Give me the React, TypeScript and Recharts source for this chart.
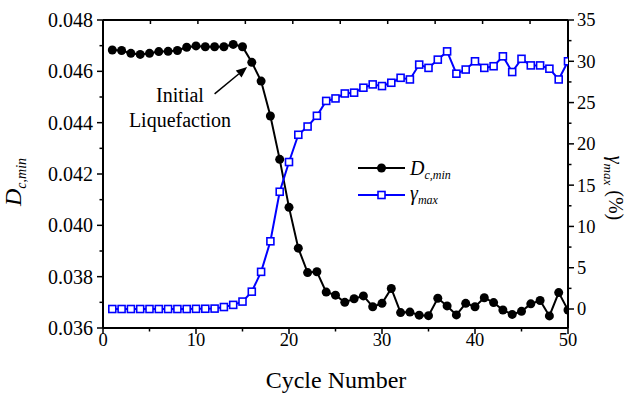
import React from 'react';
import {
  ComposedChart, Line, XAxis, YAxis, Legend, ReferenceLine, ReferenceDot, Customized,
} from 'recharts';

const cycles = [1,2,3,4,5,6,7,8,9,10,11,12,13,14,15,16,17,18,19,20,21,22,23,24,25,26,27,28,29,30,31,32,33,34,35,36,37,38,39,40,41,42,43,44,45,46,47,48,49,50];

const dcMin = [
  0.04683, 0.04681, 0.0467, 0.04666, 0.0467, 0.04677, 0.04678, 0.04681, 0.04694, 0.04699,
  0.04696, 0.04696, 0.04696, 0.04705, 0.04696, 0.04635, 0.04562, 0.04426, 0.04257, 0.0407,
  0.03911, 0.03816, 0.03819, 0.0374, 0.03728, 0.037, 0.03714, 0.03725, 0.03683, 0.03696,
  0.03754, 0.0366, 0.03662, 0.0365, 0.03648, 0.03716, 0.03686, 0.03651, 0.03696, 0.03683,
  0.03718, 0.03699, 0.0367, 0.03653, 0.03665, 0.03694, 0.03707, 0.03647, 0.03738, 0.0367,
];

const gammaMax = [
  0, 0, 0, 0, 0, 0, 0, 0, 0, 0.02,
  0.03, 0.05, 0.24, 0.5, 0.9, 2.1, 4.5, 8.2, 14.2, 17.8,
  21.1, 22.1, 23.4, 25.2, 25.5, 26.1, 26.2, 26.8, 27.2, 27.0,
  27.4, 28.0, 27.8, 29.6, 29.2, 30.2, 31.2, 28.5, 29.0, 30.0,
  29.2, 29.4, 30.6, 28.7, 30.3, 29.5, 29.5, 29.1, 27.8, 30.0,
];

const xMajorTicks = [0, 10, 20, 30, 40, 50];
const xMinorTicks = [5, 15, 25, 35, 45];
const xTopTicks = [5, 10, 15, 20, 25, 30, 35, 40, 45];
const leftMajorTicks = [0.036, 0.038, 0.04, 0.042, 0.044, 0.046, 0.048];
const leftMinorTicks = [0.037, 0.039, 0.041, 0.043, 0.045, 0.047];
const rightMajorTicks = [0, 5, 10, 15, 20, 25, 30, 35];
const rightMinorTicks = [2.5, 7.5, 12.5, 17.5, 22.5, 27.5, 32.5];

const arrowSegment = [{ x: 12.0, y: 0.04512 }, { x: 15.5, y: 0.04617 }];
const annotationPoint = { x: 8.28, y: 0.04481 };

const data = cycles.map((c, i) => ({ cycle: c, d: dcMin[i], g: gammaMax[i] }));

const FONT = '"Liberation Serif", "Times New Roman", serif';
const BLUE = '#0000ff';
const axisLineStyle = { stroke: '#000', strokeWidth: 2 };
const TICK_W = 1.5;

const isIn = (arr: number[], v: number) => arr.some((a) => Math.abs(a - v) < 1e-9);

const BottomTick = (props: any) => {
  const { x, y, payload } = props;
  const major = isIn(xMajorTicks, payload.value);
  const len = major ? 6 : 3.5;
  return (
    <g>
      <line x1={x} y1={y} x2={x} y2={y + len} stroke="#000" strokeWidth={TICK_W} />
      {major && (
        <text x={x} y={y + 18} textAnchor="middle" fontFamily={FONT} fontSize={18.5} fill="#000">{payload.value}</text>
      )}
    </g>
  );
};

const TopTick = (props: any) => {
  const { x, y } = props;
  return <line x1={x} y1={y} x2={x} y2={y + 4} stroke="#000" strokeWidth={TICK_W} />;
};

const LeftTick = (props: any) => {
  const { x, y, payload } = props;
  const major = isIn(leftMajorTicks, payload.value);
  const len = major ? 6 : 3.5;
  return (
    <g>
      <line x1={x} y1={y} x2={x - len} y2={y} stroke="#000" strokeWidth={TICK_W} />
      {major && (
        <text x={x - 10} y={y} dy="0.35em" textAnchor="end" fontFamily={FONT} fontSize={20} fill="#000">
          {Number(payload.value).toFixed(3)}
        </text>
      )}
    </g>
  );
};

const RightTick = (props: any) => {
  const { x, y, payload } = props;
  const major = isIn(rightMajorTicks, payload.value);
  const len = major ? 6 : 3.5;
  return (
    <g>
      <line x1={x} y1={y} x2={x + len} y2={y} stroke="#000" strokeWidth={TICK_W} />
      {major && (
        <text x={x + 9} y={y} dy="0.35em" textAnchor="start" fontFamily={FONT} fontSize={18.5} fill="#000">
          {payload.value}
        </text>
      )}
    </g>
  );
};

const SquareDot = (props: any) => {
  const { cx, cy, index } = props;
  if (cx == null || cy == null) return <g key={`s${index}`} />;
  return (
    <rect key={`s${index}`} x={cx - 3.5} y={cy - 3.5} width={7} height={7}
      fill="#fff" stroke={BLUE} strokeWidth={1.6} />
  );
};

const ArrowShape = (props: any) => {
  const { x1, y1, x2, y2 } = props;
  const ang = Math.atan2(y2 - y1, x2 - x1);
  const L = 11, W = 4.5;
  const bx = x2 - L * Math.cos(ang), by = y2 - L * Math.sin(ang);
  const px = -Math.sin(ang) * W, py = Math.cos(ang) * W;
  return (
    <g>
      <line x1={x1} y1={y1} x2={bx} y2={by} stroke="#000" strokeWidth={1.5} />
      <polygon points={`${x2},${y2} ${bx + px},${by + py} ${bx - px},${by - py}`} fill="#000" />
    </g>
  );
};

const AnnotationLabel = (props: any) => {
  const vb = props.viewBox || {};
  const x = vb.x + (vb.width || 0) / 2;
  const y = vb.y + (vb.height || 0) / 2;
  return (
    <g>
      <text x={x} y={y} textAnchor="middle" fontFamily={FONT} fontSize={20} fill="#000">Initial</text>
      <text x={x} y={y + 25} textAnchor="middle" fontFamily={FONT} fontSize={20} fill="#000">Liquefaction</text>
    </g>
  );
};

const LegendContent = () => (
  <svg width={140} height={52} style={{ display: 'block' }}>
    <line x1={3} y1={13} x2={50} y2={13} stroke="#000" strokeWidth={2} />
    <circle cx={26.5} cy={13} r={4.5} fill="#000" />
    <text x={55} y={20} fontFamily={FONT} fontSize={20} fill="#000" fontStyle="italic">
      D<tspan fontSize={12} dy={4}>c,min</tspan>
    </text>
    <line x1={3} y1={40} x2={50} y2={40} stroke={BLUE} strokeWidth={2} />
    <rect x={23} y={36.5} width={7} height={7} fill="#fff" stroke={BLUE} strokeWidth={1.6} />
    <text x={55} y={45} fontFamily={FONT} fontSize={20} fill="#000" fontStyle="italic">
      γ<tspan fontSize={12} dy={4}>max</tspan>
    </text>
  </svg>
);

const AxisTitles = () => (
  <g>
    <text x={336} y={388} textAnchor="middle" fontFamily={FONT} fontSize={24} fill="#000">Cycle Number</text>
    <text transform="rotate(-90)" x={-182} y={21} textAnchor="middle" fontFamily={FONT} fontSize={24} fill="#000" fontStyle="italic">
      D<tspan fontSize={14} dy={5}>c,min</tspan>
    </text>
    <text transform="rotate(90)" x={188} y={-609} textAnchor="middle" fontFamily={FONT} fontSize={20} fill="#000">
      <tspan fontStyle="italic">γ</tspan><tspan fontStyle="italic" fontSize={13} dy={5}>max</tspan><tspan dy={-5}> (%)</tspan>
    </text>
  </g>
);

export default function App() {
  return (
    <div style={{ position: 'absolute', left: 0, top: 0, width: 628, height: 396, background: '#fff' }}>
      <ComposedChart width={628} height={396} data={data}
        margin={{ top: 0, right: 0, bottom: 0, left: 0 }}>
        <XAxis xAxisId="b" dataKey="cycle" type="number" domain={[0, 50]}
          ticks={[...xMajorTicks, ...xMinorTicks]} allowDataOverflow interval={0} height={68}
          tickSize={0} tickMargin={0} axisLine={axisLineStyle} tickLine={false} tick={BottomTick} />
        <XAxis xAxisId="t" orientation="top" type="number" domain={[0, 50]} ticks={xTopTicks}
          allowDataOverflow interval={0} height={20} tickSize={0} tickMargin={0}
          axisLine={axisLineStyle} tickLine={false} tick={TopTick} />
        <YAxis yAxisId="l" type="number" domain={[0.036, 0.048]}
          ticks={[...leftMajorTicks, ...leftMinorTicks]} allowDataOverflow interval={0} width={103}
          tickSize={0} tickMargin={0} axisLine={axisLineStyle} tickLine={false} tick={LeftTick} />
        <YAxis yAxisId="r" orientation="right" type="number" domain={[-2.3, 35]}
          ticks={[...rightMajorTicks, ...rightMinorTicks]} allowDataOverflow interval={0} width={60}
          tickSize={0} tickMargin={0} axisLine={axisLineStyle} tickLine={false} tick={RightTick} />
        <Line xAxisId="b" yAxisId="l" dataKey="d" stroke="#000" strokeWidth={2}
          dot={{ r: 4.5, fill: '#000', stroke: '#000', strokeWidth: 0 }} isAnimationActive={false} />
        <Line xAxisId="b" yAxisId="r" dataKey="g" stroke={BLUE} strokeWidth={2}
          dot={SquareDot} isAnimationActive={false} />
        <ReferenceLine xAxisId="b" yAxisId="l" segment={arrowSegment} shape={ArrowShape} ifOverflow="visible" />
        <ReferenceDot xAxisId="b" yAxisId="l" x={annotationPoint.x} y={annotationPoint.y} r={0}
          fill="none" stroke="none" label={AnnotationLabel} ifOverflow="visible" />
        <Legend layout="vertical" align="center" verticalAlign="middle" content={LegendContent}
          wrapperStyle={{ position: 'absolute', left: 355, top: 155, width: 140, height: 52 }} />
        <Customized component={AxisTitles} />
      </ComposedChart>
    </div>
  );
}
